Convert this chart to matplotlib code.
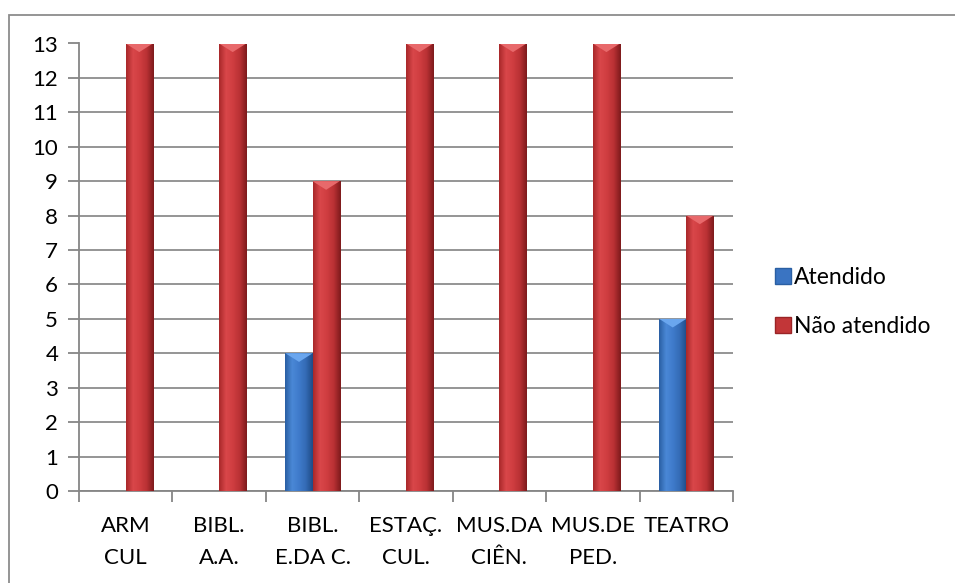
import matplotlib.pyplot as plt
import numpy as np
from matplotlib.colors import LinearSegmentedColormap
from matplotlib.lines import Line2D
from matplotlib.patches import Polygon, Rectangle

categorias = ["ARM\nCUL", "BIBL.\nA.A.", "BIBL.\nE.DA C.", "ESTAÇ.\nCUL.",
              "MUS.DA\nCIÊN.", "MUS.DE\nPED.", "TEATRO"]
atendido = [0, 0, 4, 0, 0, 0, 5]
nao_atendido = [13, 13, 9, 13, 13, 13, 8]

plt.rcParams['font.family'] = ['Lato', 'DejaVu Sans']

fig = plt.figure(figsize=(9.55, 5.83), dpi=100)
ax = fig.add_axes([79 / 955, 1 - 491 / 583, 654 / 955, 447.5 / 583])

# moldura do gráfico (só topo e esquerda aparecem)
fig.patches.append(Rectangle((9 / 955, -0.05), 1.1, 1 - 15 / 583 + 0.05,
                             transform=fig.transFigure, fill=False,
                             edgecolor="#8c8c8c", linewidth=1.3, zorder=0))

x = np.arange(len(categorias))
w = 0.29

cmap_azul = LinearSegmentedColormap.from_list(
    "azul", ["#2a5fa3", "#4a88d6", "#3f7bcb", "#346bb5", "#1f4b86"])
cmap_verm = LinearSegmentedColormap.from_list(
    "verm", ["#a8282a", "#d9474a", "#cf3d40", "#b93134", "#7e1a1c"])
gradiente = np.linspace(0, 1, 64).reshape(1, -1)


def barras(pos, vals, cmap, topo):
    rects = ax.bar(pos, vals, w, color=cmap(0.5), edgecolor="none", zorder=3)
    for r, v in zip(rects, vals):
        if v <= 0:
            continue
        x0, x1 = r.get_x(), r.get_x() + r.get_width()
        im = ax.imshow(gradiente, cmap=cmap, aspect="auto",
                       extent=(x0, x1, 0, v), zorder=4)
        im.set_clip_path(r)
        ax.add_patch(Polygon([(x0, v), (x1, v), ((x0 + x1) / 2, v - 0.25)],
                             closed=True, facecolor=topo, edgecolor="none",
                             zorder=5))


barras(x - w / 2, atendido, cmap_azul, "#6aa6ee")
barras(x + w / 2, nao_atendido, cmap_verm, "#e8696b")

ax.set_xlim(-0.5, len(categorias) - 0.5)
ax.set_ylim(0, 13)
ax.set_yticks(range(14))
ax.set_xticks(np.arange(len(categorias) + 1) - 0.5)
ax.set_xticklabels([])
ax.set_xticks(x, categorias, minor=True)
ax.tick_params(axis="x", which="minor", length=0, pad=18, labelsize=16)
ax.tick_params(axis="x", which="major", length=8, color="#868686", width=1.3)
ax.tick_params(axis="y", length=8, color="#868686", width=1.3, labelsize=16,
               pad=7)
for t in ax.get_xticklabels(minor=True):
    t.set_linespacing(1.75)

ax.grid(axis="y", color="#8c8c8c", linewidth=1.3, zorder=0)
ax.set_axisbelow(True)
for lado in ["top", "right"]:
    ax.spines[lado].set_visible(False)
for lado in ["left", "bottom"]:
    ax.spines[lado].set_color("#868686")
    ax.spines[lado].set_linewidth(1.3)

handles = [
    Line2D([], [], marker="s", linestyle="none", markersize=11,
           markerfacecolor="#3a74c2", markeredgecolor="#2a5fa3"),
    Line2D([], [], marker="s", linestyle="none", markersize=11,
           markerfacecolor="#c23638", markeredgecolor="#9a2426"),
]
fig.legend(handles, ["Atendido", "Não atendido"], loc="center left",
           bbox_to_anchor=(762 / 955, 1 - 302 / 583), frameon=False,
           fontsize=16.5, labelspacing=1.25, handletextpad=0.0,
           handlelength=1.0, borderaxespad=0.0)

fig.savefig("out.png", dpi=100)
